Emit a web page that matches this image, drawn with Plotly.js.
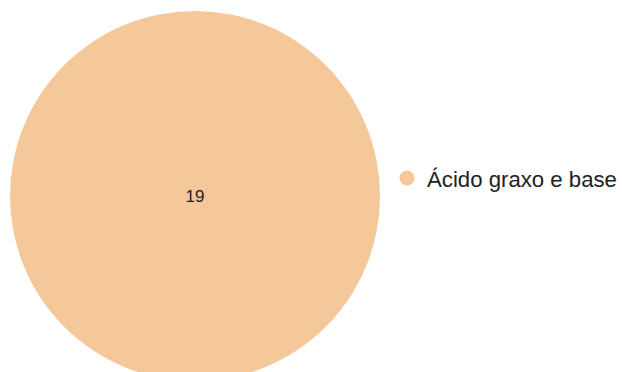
<!DOCTYPE html>
<html><head><meta charset="utf-8">
<script src="https://cdn.plot.ly/plotly-3.0.1.min.js"></script>
<style>html,body{margin:0;padding:0;overflow:hidden;background:#fff;}</style>
</head><body>
<div id="chart" style="width:622px;height:390px;"></div>
<script>
const categories = ["Ácido graxo e base"];
const values = [19];
const colors = ["#F5C89A"];

const pieTrace = {
  type: "pie",
  labels: categories,
  values: values,
  marker: {colors: colors},
  textinfo: "value",
  textposition: "inside",
  textfont: {size: 17, color: "#222", family: "Liberation Sans, Arial, sans-serif"},
  insidetextfont: {size: 17, color: "#222", family: "Liberation Sans, Arial, sans-serif"},
  sort: false,
  showlegend: false,
  hoverinfo: "label+value",
  domain: {x: [0, 370/612], y: [0, 1]}
};

const legendTraces = categories.map((c, i) => ({
  type: "scatter",
  mode: "markers",
  x: [null], y: [null],
  name: c,
  marker: {color: colors[i], size: 15, symbol: "circle"},
  showlegend: true,
  hoverinfo: "skip"
}));

const layout = {
  width: 622, height: 390,
  margin: {l: 10, r: 0, t: 11, b: 9, autoexpand: false},
  paper_bgcolor: "#fff", plot_bgcolor: "#fff",
  font: {family: "Liberation Sans, Arial, sans-serif", color: "#222"},
  xaxis: {visible: false},
  yaxis: {visible: false},
  showlegend: true,
  legend: {
    x: (387 - 10) / 612, xanchor: "left",
    y: 1 - (178 - 11) / 370, yanchor: "middle",
    font: {size: 22.2, color: "#222"},
    bgcolor: "rgba(0,0,0,0)"
  }
};

Plotly.newPlot("chart", [pieTrace, ...legendTraces], layout, {displayModeBar: false, staticPlot: true});
</script>
</body></html>
